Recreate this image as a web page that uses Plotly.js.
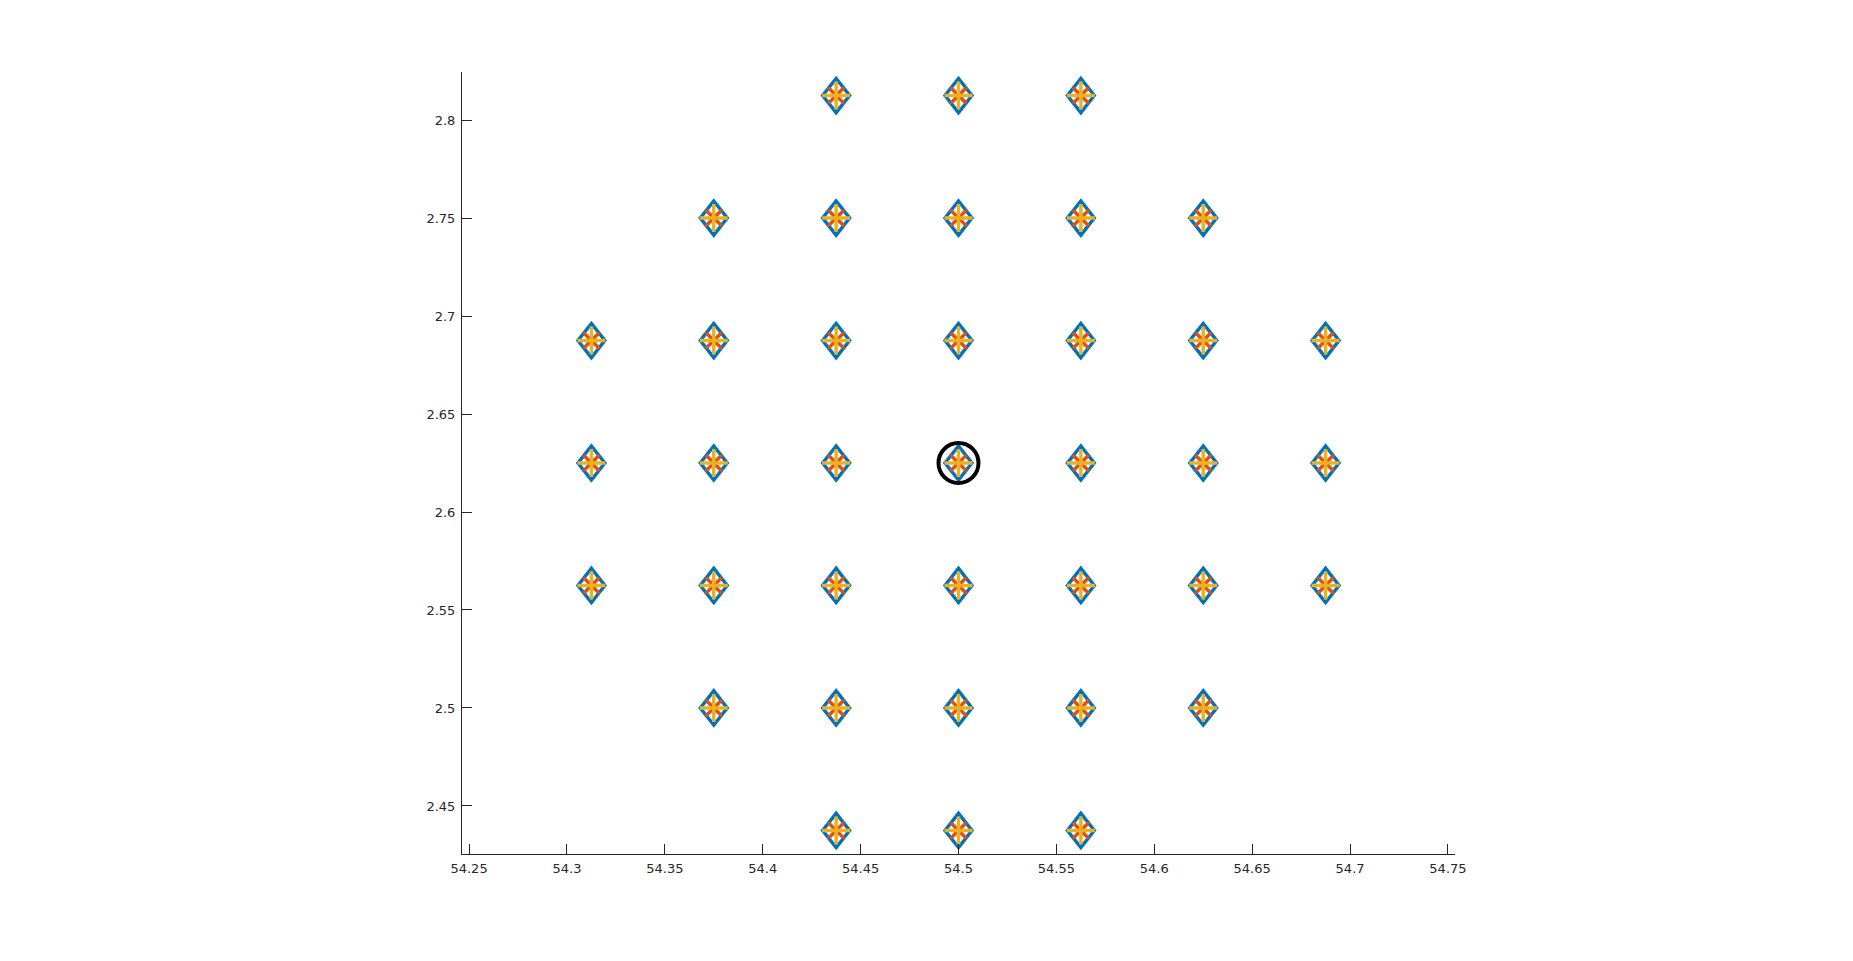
<!DOCTYPE html>
<html>
<head>
<meta charset="utf-8">
<script src="https://cdn.plot.ly/plotly-3.0.1.min.js"></script>
<style>html,body{margin:0;padding:0;background:#fff;}#chart{width:1853px;height:961px;}</style>
</head>
<body>
<div id="chart"></div>
<script>
// Grid points (longitude, latitude)
const pointX = [
  54.4375, 54.5, 54.5625,
  54.375, 54.4375, 54.5, 54.5625, 54.625,
  54.3125, 54.375, 54.4375, 54.5, 54.5625, 54.625, 54.6875,
  54.3125, 54.375, 54.4375, 54.5, 54.5625, 54.625, 54.6875,
  54.3125, 54.375, 54.4375, 54.5, 54.5625, 54.625, 54.6875,
  54.375, 54.4375, 54.5, 54.5625, 54.625,
  54.4375, 54.5, 54.5625
];
const pointY = [
  2.8125, 2.8125, 2.8125,
  2.75, 2.75, 2.75, 2.75, 2.75,
  2.6875, 2.6875, 2.6875, 2.6875, 2.6875, 2.6875, 2.6875,
  2.625, 2.625, 2.625, 2.625, 2.625, 2.625, 2.625,
  2.5625, 2.5625, 2.5625, 2.5625, 2.5625, 2.5625, 2.5625,
  2.5, 2.5, 2.5, 2.5, 2.5,
  2.4375, 2.4375, 2.4375
];
const centerX = [54.5];
const centerY = [2.625];

const xTickVals = [54.25, 54.3, 54.35, 54.4, 54.45, 54.5, 54.55, 54.6, 54.65, 54.7, 54.75];
const xTickText = ["54.25", "54.3", "54.35", "54.4", "54.45", "54.5", "54.55", "54.6", "54.65", "54.7", "54.75"];
const yTickVals = [2.45, 2.5, 2.55, 2.6, 2.65, 2.7, 2.75, 2.8];
const yTickText = ["2.45", "2.5", "2.55", "2.6", "2.65", "2.7", "2.75", "2.8"];

const traces = [
  {x: pointX, y: pointY, type: 'scatter', mode: 'markers', hoverinfo: 'skip',
   marker: {symbol: 'diamond-open', size: 23, color: '#0072BD', line: {color: '#0072BD', width: 3.5}}},
  {x: pointX, y: pointY, type: 'scatter', mode: 'markers', hoverinfo: 'skip',
   marker: {symbol: 'x-thin-open', size: 16, color: '#D95319', line: {color: '#D95319', width: 3.5}}},
  {x: pointX, y: pointY, type: 'scatter', mode: 'markers', hoverinfo: 'skip',
   marker: {symbol: 'cross-thin-open', size: 20, color: '#EDB120', line: {color: '#EDB120', width: 3.5}}},
  {x: centerX, y: centerY, type: 'scatter', mode: 'markers', hoverinfo: 'skip',
   marker: {symbol: 'circle-open', size: 40, color: '#000000', line: {color: '#000000', width: 4}}}
];

const axisCommon = {
  showline: true, linecolor: '#262626', linewidth: 1,
  ticks: 'inside', ticklen: 10, tickwidth: 1, tickcolor: '#262626',
  showgrid: false, zeroline: false, mirror: false,
  tickfont: {family: 'DejaVu Sans, sans-serif', size: 13, color: '#262626'},
  fixedrange: true
};

const layout = {
  width: 1853, height: 961, autosize: false,
  margin: {l: 462, r: 398, t: 72, b: 107, pad: 0},
  paper_bgcolor: '#ffffff', plot_bgcolor: '#ffffff',
  showlegend: false,
  xaxis: Object.assign({}, axisCommon, {range: [54.2464, 54.7536], tickmode: 'array', tickvals: xTickVals, ticktext: xTickText, ticklabelstandoff: 2}),
  yaxis: Object.assign({}, axisCommon, {range: [2.4255, 2.8245], tickmode: 'array', tickvals: yTickVals, ticktext: yTickText, ticklabelstandoff: 3})
};

Plotly.newPlot('chart', traces, layout, {displayModeBar: false, staticPlot: true}).then(function () {
  // Stretch the diamond markers to the taller proportions of the original figure
  const firstTrace = document.querySelectorAll('#chart .scatterlayer .trace')[0];
  if (firstTrace) {
    firstTrace.querySelectorAll('path.point').forEach(function (p) {
      const t = p.getAttribute('transform') || '';
      p.setAttribute('transform', t + ' scale(0.9,1.14)');
      p.style.vectorEffect = 'non-scaling-stroke';
    });
  }
});
</script>
</body>
</html>
